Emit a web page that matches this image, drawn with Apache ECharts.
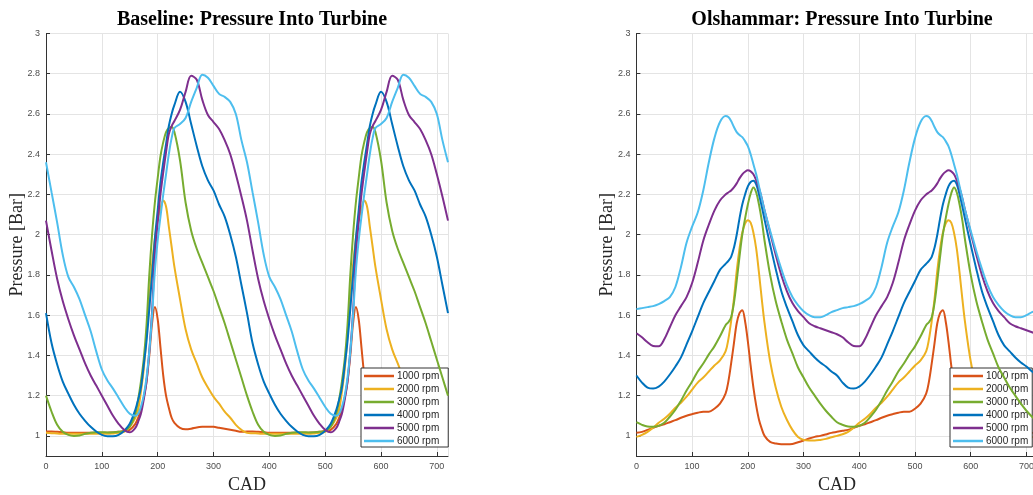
<!DOCTYPE html>
<html>
<head>
<meta charset="utf-8">
<script src="https://cdn.jsdelivr.net/npm/echarts@6/dist/echarts.min.js"></script>
<style>
html,body{margin:0;padding:0;background:#fff;}
#chart{width:1033px;height:495px;}
</style>
</head>
<body>
<div id="chart"></div>
<script>
// Crank angle (CAD) sample positions
const cad = [0,10,20,30,40,50,60,70,80,90,100,110,120,130,140,150,160,165,170,175,180,185,190,195,200,205,210,215,220,225,230,240,250,260,270,280,290,300,310,320,330,340,350,
360,370,380,390,400,410,420,430,440,450,460,470,480,490,500,510,520,525,530,535,540,545,550,555,560,565,570,575,580,585,590,600,610,620,630,640,650,660,670,680,690,700,710,720];

const seriesNames = ['1000 rpm','2000 rpm','3000 rpm','4000 rpm','5000 rpm','6000 rpm'];
const yTicks = [1,1.2,1.4,1.6,1.8,2,2.2,2.4,2.6,2.8,3];

// Baseline: Pressure Into Turbine [Bar]
const base1000 = [1.022,1.022,1.02,1.018,1.016,1.015,1.015,1.015,1.015,1.015,1.015,1.016,1.017,1.02,1.025,1.03,1.06,1.09,1.13,1.19,1.27,1.40,1.56,1.64,1.58,1.44,1.30,1.20,1.14,1.09,1.065,1.04,1.033,1.036,1.042,1.045,1.046,1.045,1.04,1.035,1.03,1.025,1.02,
1.022,1.022,1.02,1.018,1.016,1.015,1.015,1.015,1.015,1.015,1.015,1.016,1.017,1.02,1.025,1.03,1.06,1.09,1.13,1.19,1.27,1.40,1.56,1.64,1.58,1.44,1.30,1.20,1.14,1.09,1.065,1.04,1.033,1.036,1.042,1.045,1.046,1.045,1.04,1.035,1.03,1.025,1.02,1.02];
const base2000 = [1.015,1.013,1.012,1.01,1.01,1.01,1.01,1.01,1.01,1.01,1.01,1.01,1.012,1.015,1.02,1.045,1.09,1.13,1.22,1.33,1.50,1.68,1.85,1.98,2.07,2.13,2.17,2.14,2.04,1.94,1.84,1.68,1.53,1.43,1.36,1.29,1.24,1.195,1.16,1.12,1.09,1.055,1.03,
1.015,1.013,1.012,1.01,1.01,1.01,1.01,1.01,1.01,1.01,1.01,1.01,1.012,1.015,1.02,1.045,1.09,1.13,1.22,1.33,1.50,1.68,1.85,1.98,2.07,2.13,2.17,2.14,2.04,1.94,1.84,1.68,1.53,1.43,1.36,1.29,1.24,1.195,1.16,1.12,1.09,1.055,1.03,1.018];
const base3000 = [1.20,1.12,1.055,1.02,1.005,1.0,1.002,1.01,1.016,1.018,1.018,1.017,1.018,1.02,1.025,1.045,1.11,1.18,1.27,1.38,1.55,1.80,2.00,2.16,2.28,2.39,2.46,2.51,2.53,2.535,2.51,2.37,2.16,2.02,1.93,1.86,1.79,1.72,1.64,1.56,1.47,1.38,1.29,
1.20,1.12,1.055,1.02,1.005,1.0,1.002,1.01,1.016,1.018,1.018,1.017,1.018,1.02,1.025,1.045,1.11,1.18,1.27,1.38,1.55,1.80,2.00,2.16,2.28,2.39,2.46,2.51,2.53,2.535,2.51,2.37,2.16,2.02,1.93,1.86,1.79,1.72,1.64,1.56,1.47,1.38,1.29,1.20];
const base4000 = [1.61,1.46,1.355,1.27,1.21,1.155,1.11,1.075,1.045,1.022,1.005,0.998,0.998,1.005,1.025,1.06,1.13,1.18,1.24,1.35,1.47,1.63,1.80,1.98,2.12,2.26,2.36,2.45,2.54,2.60,2.645,2.71,2.66,2.55,2.44,2.34,2.27,2.22,2.15,2.09,2.00,1.89,1.75,
1.61,1.46,1.355,1.27,1.21,1.155,1.11,1.075,1.045,1.022,1.005,0.998,0.998,1.005,1.025,1.06,1.13,1.18,1.24,1.35,1.47,1.63,1.80,1.98,2.12,2.26,2.36,2.45,2.54,2.60,2.645,2.71,2.66,2.55,2.44,2.34,2.27,2.22,2.15,2.09,2.00,1.89,1.75,1.61];
const base5000 = [2.07,1.92,1.78,1.67,1.58,1.50,1.43,1.36,1.30,1.25,1.20,1.15,1.10,1.06,1.03,1.018,1.04,1.07,1.11,1.18,1.27,1.42,1.62,1.90,2.06,2.20,2.31,2.41,2.50,2.54,2.565,2.62,2.71,2.79,2.77,2.67,2.595,2.56,2.525,2.47,2.40,2.30,2.19,
2.07,1.92,1.78,1.67,1.58,1.50,1.43,1.36,1.30,1.25,1.20,1.15,1.10,1.06,1.03,1.018,1.04,1.07,1.11,1.18,1.27,1.42,1.62,1.90,2.06,2.20,2.31,2.41,2.50,2.54,2.565,2.62,2.71,2.79,2.77,2.67,2.595,2.56,2.525,2.47,2.40,2.30,2.19,2.07];
const base6000 = [2.36,2.21,2.06,1.90,1.79,1.74,1.68,1.60,1.52,1.42,1.33,1.275,1.235,1.19,1.145,1.11,1.10,1.11,1.145,1.20,1.29,1.42,1.60,1.82,1.97,2.09,2.20,2.30,2.40,2.48,2.53,2.55,2.58,2.66,2.73,2.795,2.78,2.74,2.70,2.685,2.66,2.60,2.47,
2.36,2.21,2.06,1.90,1.79,1.74,1.68,1.60,1.52,1.42,1.33,1.275,1.235,1.19,1.145,1.11,1.10,1.11,1.145,1.20,1.29,1.42,1.60,1.82,1.97,2.09,2.20,2.30,2.40,2.48,2.53,2.55,2.58,2.66,2.73,2.795,2.78,2.74,2.70,2.685,2.66,2.60,2.47,2.36];

// Olshammar: Pressure Into Turbine [Bar]
const olsh1000 = [1.015,1.02,1.03,1.04,1.05,1.058,1.068,1.078,1.09,1.10,1.108,1.115,1.12,1.12,1.135,1.16,1.21,1.27,1.36,1.46,1.56,1.61,1.625,1.57,1.47,1.35,1.24,1.15,1.08,1.035,1.0,0.97,0.962,0.958,0.958,0.96,0.968,0.977,0.987,0.995,1.0,1.007,1.015,
1.02,1.025,1.03,1.04,1.05,1.058,1.068,1.078,1.09,1.10,1.108,1.115,1.12,1.12,1.135,1.16,1.21,1.27,1.36,1.46,1.56,1.61,1.625,1.57,1.47,1.35,1.24,1.15,1.08,1.035,1.0,0.97,0.962,0.958,0.958,0.96,0.968,0.977,0.987,0.995,1.0,1.007,1.015,1.02];
const olsh2000 = [0.995,1.005,1.02,1.04,1.065,1.085,1.11,1.14,1.165,1.195,1.23,1.265,1.29,1.32,1.35,1.375,1.42,1.48,1.57,1.68,1.82,1.93,2.01,2.055,2.072,2.06,2.01,1.93,1.81,1.68,1.56,1.37,1.24,1.145,1.08,1.03,0.995,0.98,0.977,0.977,0.98,0.985,0.993,
1.0,1.008,1.02,1.04,1.065,1.085,1.11,1.14,1.165,1.195,1.23,1.265,1.29,1.32,1.35,1.375,1.42,1.48,1.57,1.68,1.82,1.93,2.01,2.055,2.072,2.06,2.01,1.93,1.81,1.68,1.56,1.37,1.24,1.145,1.08,1.03,0.995,0.98,0.977,0.977,0.98,0.985,0.993,1.0];
const olsh3000 = [1.068,1.055,1.047,1.046,1.05,1.065,1.095,1.13,1.175,1.225,1.27,1.32,1.36,1.405,1.445,1.495,1.55,1.565,1.59,1.66,1.77,1.89,2.0,2.08,2.15,2.205,2.235,2.21,2.15,2.07,1.97,1.80,1.67,1.57,1.48,1.41,1.34,1.29,1.24,1.20,1.16,1.125,1.095,
1.068,1.055,1.047,1.046,1.05,1.065,1.095,1.13,1.175,1.225,1.27,1.32,1.36,1.405,1.445,1.495,1.55,1.565,1.59,1.66,1.77,1.89,2.0,2.08,2.15,2.205,2.235,2.21,2.15,2.07,1.97,1.80,1.67,1.57,1.48,1.41,1.34,1.29,1.24,1.20,1.16,1.125,1.095,1.068];
const olsh4000 = [1.30,1.265,1.24,1.235,1.245,1.27,1.305,1.345,1.39,1.455,1.52,1.59,1.66,1.715,1.77,1.825,1.855,1.87,1.89,1.935,2.00,2.08,2.15,2.20,2.24,2.262,2.268,2.25,2.20,2.14,2.075,1.95,1.83,1.72,1.64,1.57,1.50,1.45,1.42,1.39,1.365,1.345,1.32,
1.30,1.265,1.24,1.235,1.245,1.27,1.305,1.345,1.39,1.455,1.52,1.59,1.66,1.715,1.77,1.825,1.855,1.87,1.89,1.935,2.00,2.08,2.15,2.20,2.24,2.262,2.268,2.25,2.20,2.14,2.075,1.95,1.83,1.72,1.64,1.57,1.50,1.45,1.42,1.39,1.365,1.345,1.32,1.30];
const olsh5000 = [1.51,1.49,1.465,1.447,1.445,1.48,1.54,1.60,1.645,1.69,1.76,1.86,1.97,2.05,2.12,2.17,2.20,2.21,2.22,2.235,2.255,2.28,2.30,2.313,2.32,2.315,2.30,2.27,2.23,2.18,2.12,2.01,1.90,1.80,1.72,1.66,1.62,1.59,1.56,1.545,1.535,1.525,1.515,
1.505,1.49,1.465,1.447,1.445,1.48,1.54,1.60,1.645,1.69,1.76,1.86,1.97,2.05,2.12,2.17,2.20,2.21,2.22,2.235,2.255,2.28,2.30,2.313,2.32,2.315,2.30,2.27,2.23,2.18,2.12,2.01,1.90,1.80,1.72,1.66,1.62,1.59,1.56,1.545,1.535,1.525,1.515,1.505];
const olsh6000 = [1.63,1.635,1.64,1.645,1.655,1.67,1.69,1.74,1.84,1.96,2.04,2.11,2.22,2.36,2.48,2.56,2.59,2.585,2.565,2.535,2.51,2.495,2.485,2.465,2.44,2.40,2.35,2.30,2.24,2.18,2.12,2.02,1.92,1.83,1.75,1.69,1.65,1.62,1.60,1.59,1.59,1.60,1.615,
1.625,1.635,1.64,1.645,1.655,1.67,1.69,1.74,1.84,1.96,2.04,2.11,2.22,2.36,2.48,2.56,2.59,2.585,2.565,2.535,2.51,2.495,2.485,2.465,2.44,2.40,2.35,2.30,2.24,2.18,2.12,2.02,1.92,1.83,1.75,1.69,1.65,1.62,1.60,1.59,1.59,1.60,1.615,1.625];

const colors = ['#D95319','#EDB120','#77AC30','#0072BD','#7E2F8E','#4DBEEE'];
const baseSets = [base1000, base2000, base3000, base4000, base5000, base6000];
const olshSets = [olsh1000, olsh2000, olsh3000, olsh4000, olsh5000, olsh6000];

const chart = echarts.init(document.getElementById('chart'), null, {renderer: 'canvas'});

const labelFont = {fontFamily: 'Liberation Sans, Arial, sans-serif', fontSize: 9, color: '#4d4d4d'};
const serif = 'Liberation Serif, Times New Roman, serif';

function xAxisFor(idx) {
  return {
    type: 'value', gridIndex: idx, min: 0, max: 720, interval: 100,
    name: 'CAD', nameLocation: 'middle', nameGap: 17,
    nameTextStyle: {fontFamily: serif, fontSize: 18, color: '#262626'},
    axisLine: {show: true, onZero: false, lineStyle: {color: '#333', width: 1}},
    axisTick: {show: true, inside: true, length: 4, lineStyle: {color: '#333'}},
    axisLabel: Object.assign({margin: 6, showMaxLabel: false}, labelFont),
    splitLine: {show: true, lineStyle: {color: '#e4e4e4', width: 1}}
  };
}
function yAxisFor(idx) {
  return {
    type: 'value', gridIndex: idx, min: 0.9, max: 3,
    name: 'Pressure [Bar]', nameLocation: 'middle', nameGap: 20, nameMoveOverlap: false,
    nameTextStyle: {fontFamily: serif, fontSize: 18, color: '#262626'},
    axisLine: {show: true, onZero: false, lineStyle: {color: '#333', width: 1}},
    axisTick: {show: true, inside: true, length: 4, customValues: yTicks, lineStyle: {color: '#333'}},
    axisLabel: Object.assign({margin: 6, customValues: yTicks}, labelFont),
    splitLine: {show: true, lineStyle: {color: '#e4e4e4', width: 1}}
  };
}

const series = [];
[baseSets, olshSets].forEach((sets, g) => {
  sets.forEach((arr, i) => {
    series.push({
      name: seriesNames[i], type: 'line', xAxisIndex: g, yAxisIndex: g,
      data: cad.map((c, k) => [c, arr[k]]),
      smooth: 0.35, symbol: 'none', showSymbol: false,
      lineStyle: {width: 2, color: colors[i]}, itemStyle: {color: colors[i]},
      z: 2 + i
    });
  });
});

function legendFor(left, rightPad) {
  return {
    orient: 'vertical', left: left, top: 368,
    data: seriesNames.map(n => ({name: n, icon: 'rect'})),
    itemWidth: 30, itemHeight: 2.5, itemGap: 3,
    padding: [3, rightPad, 1, 3],
    backgroundColor: '#fff', borderColor: '#333', borderWidth: 1, borderRadius: 0,
    textStyle: {fontFamily: 'Liberation Sans, Arial, sans-serif', fontSize: 10, lineHeight: 10, color: '#262626', padding: [0,0,0,-2]},
    selectedMode: false
  };
}

const option = {
  animation: false,
  backgroundColor: '#fff',
  color: colors,
  title: [
    {text: 'Baseline: Pressure Into Turbine', left: 247, top: 5, textAlign: 'center',
     textStyle: {fontFamily: serif, fontWeight: 'bold', fontSize: 20, color: '#000'}},
    {text: 'Olshammar: Pressure Into Turbine', left: 837, top: 5, textAlign: 'center',
     textStyle: {fontFamily: serif, fontWeight: 'bold', fontSize: 20, color: '#000'}}
  ],
  grid: [
    {left: 46, top: 33.5, width: 402, height: 422.5, containLabel: false, outerBoundsMode: 'none'},
    {left: 636.4, top: 33.5, width: 401.2, height: 422.5, containLabel: false, outerBoundsMode: 'none'}
  ],
  xAxis: [xAxisFor(0), xAxisFor(1)],
  yAxis: [yAxisFor(0), yAxisFor(1)],
  legend: [legendFor(361, 9), legendFor(950, 4)],
  series: series
};
chart.setOption(option);
</script>
</body>
</html>
